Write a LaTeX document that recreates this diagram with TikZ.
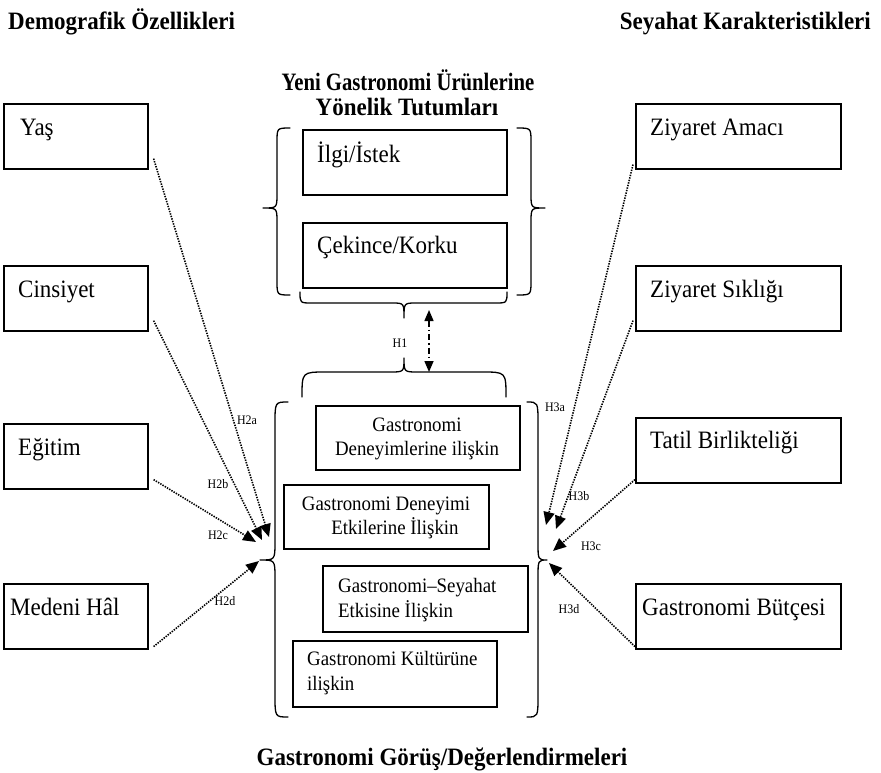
\documentclass[tikz,border=0pt]{standalone}
\usepackage{fontspec}
\usepackage{graphicx}
\setmainfont{Liberation Serif}[FakeStretch=0.92]
\usetikzlibrary{arrows.meta,calc}

\tikzset{
  factor/.style={draw, line width=1.6pt, minimum width=144pt, minimum height=65pt,
    anchor=north west, inner sep=0pt},
  dimbox/.style={draw, line width=1.6pt, minimum width=204pt, minimum height=64pt,
    anchor=north west, inner sep=0pt},
  boxlbl/.style={anchor=base west, inner sep=0pt, font=\fontsize{25}{28}\selectfont},
  dimlbl/.style={inner sep=0pt, font=\fontsize{20.5}{24.5}\selectfont},
  ttl/.style={inner sep=0pt, font=\bfseries\fontsize{25}{28}\selectfont},
  hlbl/.style={fill=white, inner sep=1.5pt, font=\fontsize{13}{13}\selectfont},
  brc/.style={line width=1.3pt, line cap=round, line join=round},
  hyp/.style={line width=1.6pt, dash pattern=on 1.4pt off 1.2pt,
    -{Triangle[length=13pt,width=11pt]}},
  rel/.style={line width=1.5pt, dash pattern=on 6pt off 3pt on 1.5pt off 3pt,
    {Triangle[length=11pt,width=9pt]}-{Triangle[length=11pt,width=9pt]}}
}

\begin{document}
\begin{tikzpicture}[x=1pt,y=-1pt]
\fill[white] (0,0) rectangle (881,772);
\useasboundingbox (0,0) rectangle (881,772);

% headings
\node[ttl, anchor=base west] (demo) at (8,29) {Demografik Özellikleri};
\node[ttl, anchor=base east] (seyahat) at (871,29) {Seyahat Karakteristikleri};
\node[ttl, anchor=base] (yeni1) at (408,90) {\scalebox{0.9}[1]{Yeni Gastronomi Ürünlerine}};
\node[ttl, anchor=base] (yeni2) at (407,115) {Yönelik Tutumları};
\node[ttl, anchor=base] (gorus) at (442,765) {Gastronomi Görüş/Değerlendirmeleri};

% demographic factors
\node[factor] (yas) at (3,103) {};
\node[boxlbl] (yast) at (20,135) {Yaş};
\node[factor] (cins) at (3,265) {};
\node[boxlbl] (cinst) at (18,297) {Cinsiyet};
\node[factor] (egit) at (3,423) {};
\node[boxlbl] (egitt) at (18,455) {Eğitim};
\node[factor] (medeni) at (3,583) {};
\node[boxlbl] (medenit) at (10,615) {Medeni Hâl};

% travel characteristics
\node[factor, minimum width=205pt] (amac) at (635,103) {};
\node[boxlbl] (amact) at (650,135) {Ziyaret Amacı};
\node[factor, minimum width=205pt] (sik) at (635,265) {};
\node[boxlbl] (sikt) at (650,297) {Ziyaret Sıklığı};
\node[factor, minimum width=205pt] (tatil) at (635,417) {};
\node[boxlbl] (tatilt) at (650,448) {Tatil Birlikteliği};
\node[factor, minimum width=205pt] (butce) at (635,583) {};
\node[boxlbl] (butcet) at (642,615) {Gastronomi Bütçesi};

% attitudes towards new gastronomy products
\node[dimbox, minimum height=65pt] (ilgi) at (302,129) {};
\node[boxlbl] (ilgit) at (317,162) {İlgi/İstek};
\node[dimbox, minimum height=65pt] (cekince) at (302,222) {};
\node[boxlbl] (cekincet) at (317,253) {Çekince/Korku};

\draw[brc] (290,128) .. controls (277,128) .. (277,142) -- (277,194)
  .. controls (277,208) .. (263,208) .. controls (277,208) .. (277,222)
  -- (277,281) .. controls (277,295) .. (290,295);
\draw[brc] (517,128) .. controls (531,128) .. (531,142) -- (531,194)
  .. controls (531,208) .. (545,208) .. controls (531,208) .. (531,222)
  -- (531,281) .. controls (531,295) .. (517,295);
\draw[brc] (300,292) .. controls (300,303) .. (312,303) -- (392,303)
  .. controls (404,303) .. (404,318) .. controls (404,303) .. (416,303)
  -- (495,303) .. controls (507,303) .. (507,292);

% gastronomy opinions / evaluations
\draw[brc] (302,397) .. controls (302,372) .. (326,372) -- (390,372)
  .. controls (404,372) .. (404,358) .. controls (404,372) .. (418,372)
  -- (482,372) .. controls (506,372) .. (506,397);

\node[dimbox] (deney) at (315,405) {};
\node[dimlbl, align=center] (deneyt) at (417,439) {Gastronomi\\Deneyimlerine ilişkin};
\node[dimbox, minimum width=205pt] (etki) at (283,484) {};
\node[dimlbl, align=center] (etkit) at (386,518) {Gastronomi Deneyimi\\\hspace*{18pt}Etkilerine İlişkin};
\node[dimbox, minimum width=205pt, minimum height=66pt] (seyetki) at (322,565) {};
\node[dimlbl, align=left, anchor=base west] (seyetkit) at (338,617) {Gastronomi–Seyahat\\Etkisine İlişkin};
\node[dimbox, minimum height=66pt] (kultur) at (292,640) {};
\node[dimlbl, align=left, anchor=base west] (kulturt) at (307,690) {Gastronomi Kültürüne\\ilişkin};

\draw[brc] (288,402) .. controls (275,402) .. (275,424) -- (275,542)
  .. controls (275,560) .. (260,560) .. controls (275,560) .. (275,578)
  -- (275,695) .. controls (275,717) .. (288,717);
\draw[brc] (527,402) .. controls (538,402) .. (538,424) -- (538,542)
  .. controls (538,560) .. (547,560) .. controls (538,560) .. (538,578)
  -- (538,695) .. controls (538,717) .. (527,717);

% H1: attitudes <-> opinions
\coordinate (relA) at (429,310);
\coordinate (relB) at (429,372);
\draw[rel] (relA) -- (relB);
\node[hlbl, fill=none] (h1) at (400,343) {H1};

% hypotheses H2
\coordinate (ta) at (269,537);
\coordinate (tb) at (262,540);
\coordinate (tc) at (256,542);
\coordinate (td) at (259,561);
\draw[hyp] ($(yas.south east)+(5,-11)$) -- (ta);
\draw[hyp] ($(cins.south east)+(5,-11)$) -- (tb);
\draw[hyp] ($(egit.south east)+(5,-10)$) -- (tc);
\draw[hyp] ($(medeni.south east)+(5,-3)$) -- (td);
\node[hlbl] (h2a) at (247,420) {H2a};
\node[hlbl] (h2b) at (218,484) {H2b};
\node[hlbl] (h2c) at (218,535) {H2c};
\node[hlbl, fill=none] (h2d) at (225,601) {H2d};

% hypotheses H3
\coordinate (ua) at (546,525);
\coordinate (ub) at (556,529);
\coordinate (uc) at (553,551);
\coordinate (ud) at (549,563);
\draw[hyp] ($(amac.south west)+(-2,-5)$) -- (ua);
\draw[hyp] ($(sik.south west)+(-2,-11)$) -- (ub);
\draw[hyp] ($(tatil.south west)+(0,-4)$) -- (uc);
\draw[hyp] ($(butce.south west)+(0,-3)$) -- (ud);
\node[hlbl, fill=none] (h3a) at (555,407) {H3a};
\node[hlbl, fill=none] (h3b) at (579,496) {H3b};
\node[hlbl, fill=none] (h3c) at (591,546) {H3c};
\node[hlbl] (h3d) at (569,609) {H3d};
\end{tikzpicture}
\end{document}
